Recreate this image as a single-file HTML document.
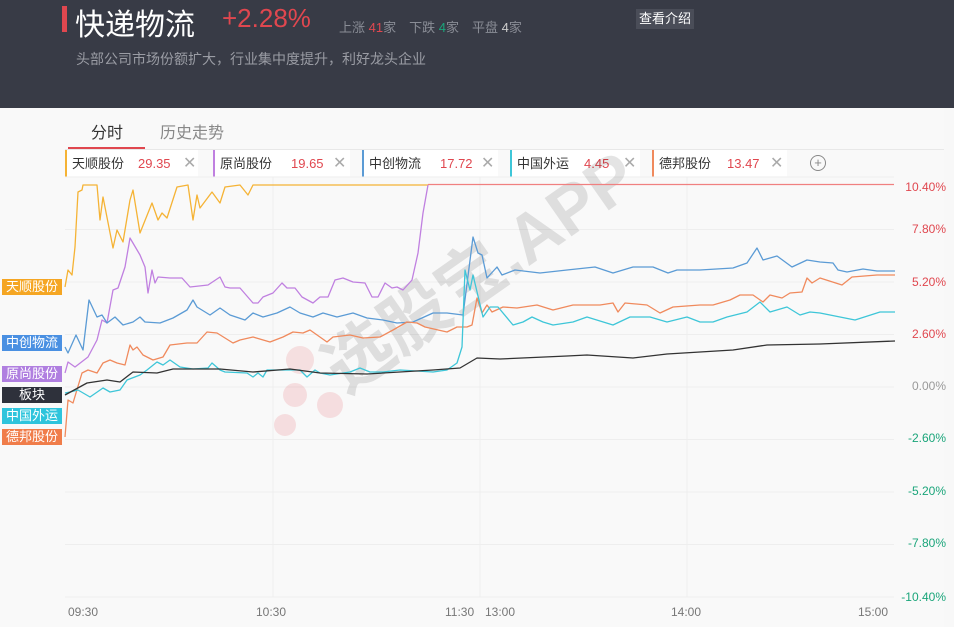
<!DOCTYPE html>
<html><head><meta charset="utf-8"><style>
*{margin:0;padding:0;box-sizing:border-box}
body{width:954px;height:627px;overflow:hidden;background:#f8f8f8;font-family:"Liberation Sans","Noto Sans CJK SC",sans-serif;position:relative}
.hd{position:absolute;left:0;top:0;width:954px;height:108px;background:#383b46}
.a{position:absolute;white-space:nowrap}
.chip{position:absolute;top:150px;height:27px;background:#fff;border-left:2px solid;font-size:13px;color:#333;line-height:27px;padding-left:5px}
.chip b{font-weight:normal;color:#e0474f;position:absolute}
.chip i{font-style:normal;color:#aaa;position:absolute;font-size:16px}
.lb{position:absolute;left:2px;width:60px;height:16px;color:#fff;font-size:13px;line-height:16px;text-align:center}
.ax{position:absolute;right:8px;font-size:12px}
.tx{position:absolute;top:605px;font-size:12px;color:#777}
</style></head><body>
<div class="hd"></div>
<div class="a" style="left:62px;top:6px;width:5px;height:26px;background:#e0474f"></div>
<div class="a" style="left:75px;top:0px;font-size:30px;color:#fff">快递物流</div>
<div class="a" style="left:222px;top:3px;font-size:26px;color:#e0474f">+2.28%</div>
<div class="a" style="left:339px;top:17px;font-size:13px;color:#8a8d96">上涨 <span style="color:#e0474f">41</span>家　下跌 <span style="color:#1aa57a">4</span>家　平盘 <span style="color:#ccc">4</span>家</div>
<div class="a" style="left:636px;top:9px;width:58px;height:20px;background:#4a4d58;color:#fff;font-size:13px;line-height:20px;text-align:center">查看介绍</div>
<div class="a" style="left:76px;top:49px;font-size:14px;color:#9a9ca4">头部公司市场份额扩大，行业集中度提升，利好龙头企业</div>
<div class="a" style="left:0;top:108px;width:944px;height:519px;background:#f9f9f9"></div>
<div class="a" style="left:91px;top:119px;font-size:16px;color:#333">分时</div>
<div class="a" style="left:160px;top:119px;font-size:16px;color:#888">历史走势</div>
<div class="a" style="left:68px;top:147px;width:77px;height:3px;background:#e0474f"></div>
<div class="a" style="left:65px;top:149px;width:879px;height:1px;background:#e8e8e8"></div>
<div class="chip" style="left:65px;width:133px;border-color:#f5b335">天顺股份<b style="left:71px">29.35</b><i style="left:116px">✕</i></div>
<div class="chip" style="left:213px;width:137px;border-color:#c080e0">原尚股份<b style="left:76px">19.65</b><i style="left:118px">✕</i></div>
<div class="chip" style="left:362px;width:136px;border-color:#5b9bd5">中创物流<b style="left:76px">17.72</b><i style="left:117px">✕</i></div>
<div class="chip" style="left:510px;width:130px;border-color:#3ec6d8">中国外运<b style="left:72px">4.45</b><i style="left:111px">✕</i></div>
<div class="chip" style="left:652px;width:135px;border-color:#f08a5d">德邦股份<b style="left:73px">13.47</b><i style="left:116px">✕</i></div>
<div class="a" style="left:810px;top:155px;width:16px;height:16px;border:1px solid #888;border-radius:50%;color:#888;font-size:13px;line-height:14px;text-align:center">+</div>
<svg class="a" style="left:0;top:0" width="954" height="627">
<g stroke="#eeeeee" stroke-width="1">
<line x1="65" y1="177" x2="894" y2="177"/><line x1="65" y1="229.5" x2="894" y2="229.5"/><line x1="65" y1="282" x2="894" y2="282"/><line x1="65" y1="334.5" x2="894" y2="334.5"/><line x1="65" y1="387" x2="894" y2="387"/><line x1="65" y1="439.5" x2="894" y2="439.5"/><line x1="65" y1="492" x2="894" y2="492"/><line x1="65" y1="544.5" x2="894" y2="544.5"/><line x1="65" y1="597" x2="894" y2="597"/>
<line x1="273" y1="177" x2="273" y2="597"/><line x1="480" y1="177" x2="480" y2="597"/><line x1="687" y1="177" x2="687" y2="597"/>
</g>
<g opacity="0.15" fill="#e0474f"><circle cx="300" cy="360" r="14"/><circle cx="330" cy="405" r="13"/><circle cx="295" cy="395" r="12"/><circle cx="285" cy="425" r="11"/></g>
<text x="0" y="0" transform="translate(345,395) rotate(-35)" font-size="68" font-weight="bold" fill="#000" opacity="0.1" font-family="Liberation Sans,Noto Sans CJK SC,sans-serif">选股宝.APP</text>
<g fill="none" stroke-width="1.3" stroke-linejoin="round">
<polyline stroke="#f08080" points="428,184.5 894,184.5"/>
<polyline stroke="#f5b335" points="65,287 68,270 72,275 75,247 78,192 82,190 83,185 97,185 100,220 103,197 113,248 117,230 123,242 130,200 133,190 140,233 152,203 158,220 162,213 167,218 177,187 188,185 193,220 197,195 200,208 212,192 220,203 225,187 240,185 248,195 253,185 428,185"/>
<polyline stroke="#c080e0" points="65,373 68,362 75,367 88,357 97,340 102,320 107,323 113,290 118,288 125,267 130,238 140,255 145,267 148,293 152,270 155,283 158,277 170,278 182,278 190,287 208,285 220,277 225,287 230,288 240,288 253,303 258,303 263,297 273,293 282,283 287,288 295,288 302,297 313,303 320,297 328,297 335,280 343,278 353,282 365,283 372,297 378,297 385,283 392,288 397,287 403,290 412,280 418,253 423,213 428,185"/>
<polyline stroke="#5b9bd5" points="65,347 68,353 76,335 83,350 89,300 97,317 102,315 107,323 115,317 123,325 133,322 140,317 145,322 160,323 173,318 187,310 193,300 197,307 210,315 220,308 230,315 245,320 253,313 263,317 277,313 290,307 300,313 313,317 323,313 337,317 353,313 367,318 383,320 397,323 413,322 433,313 447,313 463,315 473,237 478,253 482,255 487,278 497,267 502,275 515,270 540,273 567,270 595,267 613,273 633,267 653,267 668,273 677,270 700,270 733,268 747,263 757,248 763,260 777,256 792,267 807,260 820,262 833,263 838,270 847,272 863,269 877,271 895,271"/>
<polyline stroke="#f08a5d" points="65,437 68,400 73,403 82,373 88,370 97,373 103,363 110,360 117,363 125,365 130,345 133,350 137,347 143,355 153,360 163,357 170,345 187,343 197,343 207,332 217,333 233,343 240,340 253,337 270,342 283,337 293,332 303,333 310,330 327,342 333,337 350,335 363,338 380,337 393,330 407,322 417,323 425,327 447,332 457,327 467,327 472,325 477,298 482,313 487,305 492,312 503,307 517,308 537,305 553,310 573,305 600,305 613,303 618,312 625,303 647,305 660,313 673,307 700,305 713,305 730,300 740,295 753,295 763,302 770,295 782,298 790,293 802,292 807,278 812,283 820,278 842,285 852,277 877,275 895,275"/>
<polyline stroke="#3ec6d8" points="65,393 70,392 78,390 90,397 103,388 110,392 120,390 127,380 140,375 147,370 157,362 163,365 170,360 180,367 193,369 208,368 212,363 220,370 225,372 247,373 253,377 258,373 263,377 267,370 280,370 300,370 307,377 315,370 320,373 330,375 350,372 360,368 370,372 383,372 400,370 433,372 447,370 457,363 462,347 465,270 470,290 473,275 483,317 490,307 498,307 513,325 523,322 532,317 543,322 553,325 573,322 587,317 613,325 630,317 650,317 667,322 687,317 700,322 713,322 727,317 747,312 760,302 770,312 787,307 800,315 810,312 820,313 855,320 880,312 895,312"/>
<polyline stroke="#333" points="65,395 87,383 107,380 120,382 133,372 157,373 173,369 220,369 253,372 290,369 320,373 367,374 433,370 460,368 477,358 500,359 567,356 587,355 633,358 667,354 700,352 733,350 767,345 820,344 895,341"/>
</g>
</svg>
<div class="lb" style="top:279px;background:#f5a623">天顺股份</div>
<div class="lb" style="top:335px;background:#4a90e2">中创物流</div>
<div class="lb" style="top:366px;background:#b07fe0">原尚股份</div>
<div class="lb" style="top:387px;background:#2e313b">板块</div>
<div class="lb" style="top:408px;background:#2ec4dc">中国外运</div>
<div class="lb" style="top:429px;background:#f07d4a">德邦股份</div>
<div class="ax" style="top:180px;color:#e0474f">10.40%</div>
<div class="ax" style="top:222px;color:#e0474f">7.80%</div>
<div class="ax" style="top:275px;color:#e0474f">5.20%</div>
<div class="ax" style="top:327px;color:#e0474f">2.60%</div>
<div class="ax" style="top:379px;color:#999">0.00%</div>
<div class="ax" style="top:431px;color:#1aa57a">-2.60%</div>
<div class="ax" style="top:484px;color:#1aa57a">-5.20%</div>
<div class="ax" style="top:536px;color:#1aa57a">-7.80%</div>
<div class="ax" style="top:590px;color:#1aa57a">-10.40%</div>
<div class="tx" style="left:68px">09:30</div>
<div class="tx" style="left:256px">10:30</div>
<div class="tx" style="left:445px">11:30</div>
<div class="tx" style="left:485px">13:00</div>
<div class="tx" style="left:671px">14:00</div>
<div class="tx" style="left:858px">15:00</div>
</body></html>
